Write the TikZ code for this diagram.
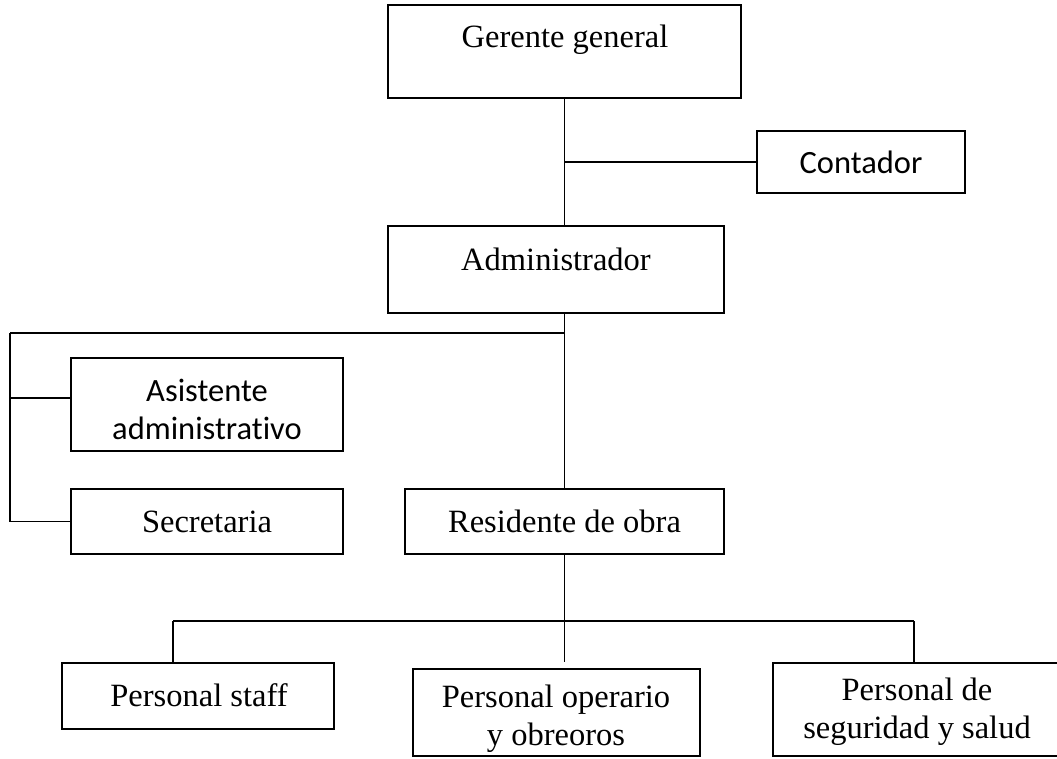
\documentclass[tikz,border=0pt]{standalone}
\usepackage{fontspec}
\setmainfont{Liberation Serif}
\newfontfamily\calibrifont[Ligatures=NoCommon]{Carlito}
\usepackage{tikz}
\usetikzlibrary{arrows}

\begin{document}
\begin{tikzpicture}[x=1pt,y=-1pt,
    box/.style={rectangle, draw, line width=1.7pt, inner sep=0pt},
    txt/.style={font=\fontsize{32.5}{38}\selectfont, align=center, inner sep=0pt},
    link/.style={line width=1.3pt},
    bus/.style={line width=2pt}]

    \clip (0,0) rectangle (1057,758);

    \node[box,
          minimum width = 353pt,
          minimum height = 93pt
          ] (gg) at (564.5,51.5) {};
    \node[txt] (ggtext) at (565,40) {Gerente general};

    \node[box,
          minimum width = 208pt,
          minimum height = 62pt
          ] (cont) at (861,162) {};
    \node[txt] (conttext) at (cont.center) {\calibrifont Contador};

    \node[box,
          minimum width = 336pt,
          minimum height = 87pt
          ] (adm) at (556,269.5) {};
    \node[txt] (admtext) at (556,259) {Administrador};

    \node[box,
          minimum width = 272pt,
          minimum height = 93pt
          ] (asis) at (207,404.5) {};
    \node[txt] (asistext) at (207,409) {\calibrifont Asistente\\ \calibrifont administrativo};

    \node[box,
          minimum width = 272pt,
          minimum height = 65pt
          ] (sec) at (207,521.5) {};
    \node[txt] (sectext) at (sec.center) {Secretaria};

    \node[box,
          minimum width = 319pt,
          minimum height = 65pt
          ] (res) at (564.5,521.5) {};
    \node[txt] (restext) at (res.center) {Residente de obra};

    \node[box,
          minimum width = 272pt,
          minimum height = 66pt
          ] (staff) at (198,696) {};
    \node[txt] (stafftext) at (199,695) {Personal staff};

    \node[box,
          minimum width = 287pt,
          minimum height = 87pt
          ] (oper) at (556.5,712.5) {};
    \node[txt] (opertext) at (556,719) {Personal operario\\ y obreoros};

    \node[box,
          minimum width = 292pt,
          minimum height = 93pt
          ] (seg) at (919,709.5) {};
    \node[txt] (segtext) at (917,712) {Personal de\\ seguridad y salud};

    \coordinate (lbus) at (10,333);
    \coordinate (sbus) at (173,621);
    \coordinate (rbus) at (914,621);

    % top part
    \draw[link] (gg.south) -- (gg.south |- adm.north);
    \draw[link] (cont.west) -- (cont.west -| gg.south);
    \draw[link] (res.north) -- (res.north |- adm.south);

    % left branch
    \draw[bus] (res.north |- lbus) -- (lbus);
    \draw[link] (lbus) -- (lbus |- sec.west) -- (sec.west);
    \draw[link] (lbus |- 0,398) -- (asis.west |- 0,398);

    % bottom branch
    \draw[link] (res.south) -- (res.south |- sbus);
    \draw[bus] (sbus) -- (rbus);
    \draw[link] (sbus) -- (sbus |- staff.north);
    \draw[link] (res.south |- sbus) -- (res.south |- staff.north);
    \draw[link] (rbus) -- (rbus |- seg.north);

\end{tikzpicture}
\end{document}
